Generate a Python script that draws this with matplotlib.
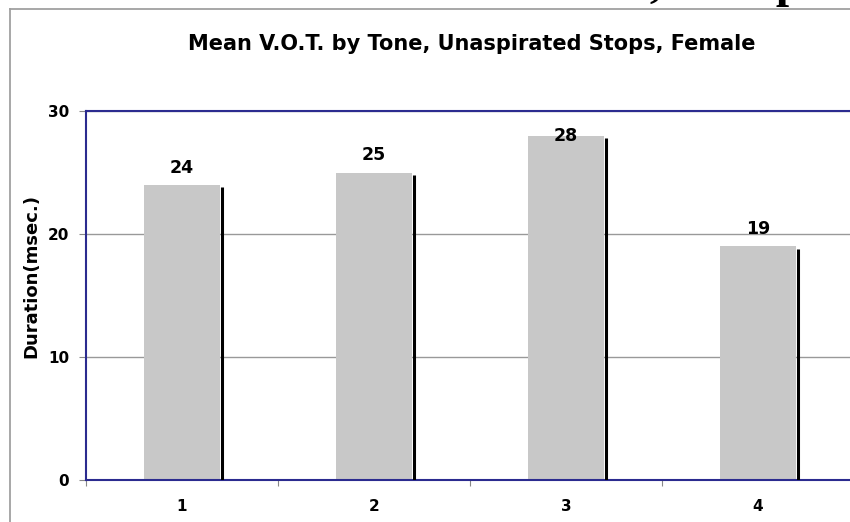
import matplotlib
matplotlib.use("Agg")
import matplotlib.pyplot as plt
from matplotlib.lines import Line2D

# data
tones = ["1", "2", "3", "4"]
vot = [24, 25, 28, 19]
title = "Mean V.O.T. by Tone, Unaspirated Stops, Female"
ylabel = "Duration(msec.)"

W, H = 850, 522
fig = plt.figure(figsize=(W / 100, H / 100), dpi=100)
fig.patch.set_facecolor("white")

# slide frame leftovers (grey border, clipped heading above)
fig.add_artist(Line2D([10 / W, 1], [1 - 9 / H, 1 - 9 / H], color="#a0a0a0", lw=1.3))
fig.add_artist(Line2D([10 / W, 10 / W], [0, 1 - 9 / H], color="#a0a0a0", lw=1.3))
fig.text(650 / W, 1 + 3 / H, ", Unasp", fontsize=34, family="Liberation Serif",
         weight="bold", va="baseline", ha="left")

ax = fig.add_axes([86 / W, 1 - 480 / H, 768 / W, 369 / H])
navy = "#2b2b8f"

pos = [i + 0.5 for i in range(len(tones))]
ax.bar(pos, vot, width=0.4, color="#c8c8c8", edgecolor="none", zorder=2)
# dark shadow line on the right side of each bar
ax.vlines([p + 0.208 for p in pos], 0, [v - 0.2 for v in vot], color="black", lw=2.2, zorder=3)

for p, v in zip(pos, vot):
    ax.text(p, min(v + 1.4, 28.0), str(v), ha="center", va="center",
            fontsize=12.5, weight="bold", zorder=4)

ax.set_xlim(0, 4)
ax.set_ylim(0, 30)
ax.set_yticks([0, 10, 20, 30])
ax.set_yticklabels(["0", "10", "20", "30"], fontsize=11, weight="bold")
ax.set_xticks([0, 1, 2, 3, 4])
ax.set_xticklabels([])
ax.set_xticks(pos, minor=True)
ax.set_xticklabels(tones, minor=True, fontsize=11, weight="bold")
ax.tick_params(axis="x", which="major", direction="out", length=4, color="#888888")
ax.tick_params(axis="x", which="minor", length=0, pad=14)
ax.tick_params(axis="y", direction="out", length=5, color="#888888", pad=7)

ax.grid(axis="y", color="#999999", lw=1, zorder=1)
for s in ["top", "left", "bottom"]:
    ax.spines[s].set_color(navy)
    ax.spines[s].set_linewidth(1.5)
ax.spines["right"].set_visible(False)

ax.set_ylabel(ylabel, fontsize=13, weight="bold")
ax.yaxis.set_label_coords(-0.06, 0.553)

fig.text(472 / W, 1 - 44 / H, title, fontsize=15, weight="bold", ha="center", va="center")

fig.savefig("out.png", dpi=100)
